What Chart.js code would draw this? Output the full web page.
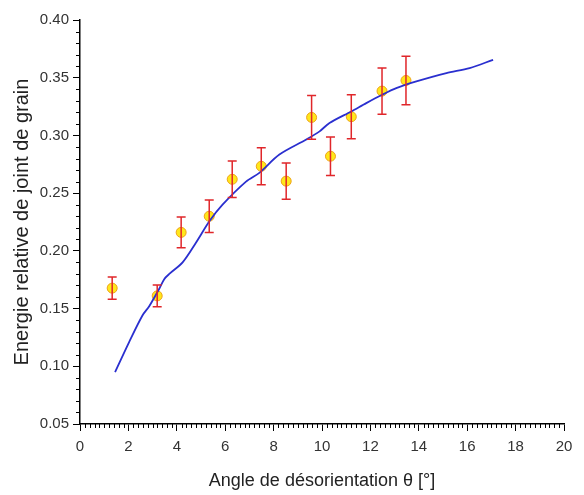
<!DOCTYPE html>
<html>
<head>
<meta charset="utf-8">
<script src="https://cdn.jsdelivr.net/npm/chart.js@4.4.1/dist/chart.umd.min.js"></script>
<style>
    html, body { margin: 0; padding: 0; background: #fff; }
    #wrap { width: 584px; height: 495px; }
</style>
</head>
<body>
<div id="wrap"><canvas id="chart" width="584" height="495"></canvas></div>
<script>
// fitted curve
const curveAngle = [1.45, 2.03, 2.58, 2.86, 3.27, 3.48, 3.69, 4.24, 4.79, 5.36, 5.89, 6.86, 7.41, 8.24, 9.35, 9.9, 10.31, 11.21, 11.83, 12.48, 13.07, 13.9, 15.14, 16.1, 17.07];
const curveEnergy = [0.095, 0.121, 0.144, 0.152, 0.167, 0.1755, 0.18, 0.19, 0.207, 0.226, 0.24, 0.26, 0.2676, 0.2834, 0.2964, 0.3035, 0.3108, 0.3208, 0.328, 0.3352, 0.341, 0.3468, 0.354, 0.3583, 0.3655];

// measured points with error bars
const pointAngle = [1.33, 3.19, 4.18, 5.34, 6.29, 7.49, 8.52, 9.57, 10.35, 11.21, 12.48, 13.47];
const pointEnergy = [0.1677, 0.161, 0.216, 0.230, 0.262, 0.2733, 0.2604, 0.3156, 0.282, 0.3162, 0.3384, 0.3476];
const pointError = [0.0097, 0.0095, 0.0134, 0.014, 0.0158, 0.016, 0.0157, 0.019, 0.0167, 0.019, 0.020, 0.021];

const xMin = 0, xMax = 20, xStep = 2, xMinorStep = 0.2;
const yMin = 0.05, yMax = 0.40, yStep = 0.05, yMinorStep = 0.01;

const errorBars = {
    id: 'errorBars',
    afterDatasetsDraw(chart) {
        const { ctx, scales: { x, y } } = chart;
        ctx.save();
        ctx.strokeStyle = '#e0262a';
        ctx.lineWidth = 1.5;
        pointAngle.forEach((a, i) => {
            const px = x.getPixelForValue(a);
            const top = y.getPixelForValue(pointEnergy[i] + pointError[i]);
            const bottom = y.getPixelForValue(pointEnergy[i] - pointError[i]);
            ctx.beginPath();
            ctx.moveTo(px, top);
            ctx.lineTo(px, bottom);
            ctx.moveTo(px - 4.5, top);
            ctx.lineTo(px + 4.5, top);
            ctx.moveTo(px - 4.5, bottom);
            ctx.lineTo(px + 4.5, bottom);
            ctx.stroke();
        });
        ctx.restore();
    },
};

const minorTicks = {
    id: 'minorTicks',
    afterDraw(chart) {
        const { ctx, chartArea, scales: { x, y } } = chart;
        ctx.save();
        ctx.strokeStyle = '#000';
        ctx.lineWidth = 1;
        ctx.beginPath();
        const nx = Math.round((xMax - xMin) / xMinorStep);
        for (let i = 0; i <= nx; i++) {
            if (i % 10 === 0) continue;
            const px = Math.round(x.getPixelForValue(xMin + i * xMinorStep)) + 0.5;
            ctx.moveTo(px, chartArea.bottom);
            ctx.lineTo(px, chartArea.bottom + 4);
        }
        const ny = Math.round((yMax - yMin) / yMinorStep);
        for (let i = 0; i <= ny; i++) {
            if (i % 5 === 0) continue;
            const py = Math.round(y.getPixelForValue(yMin + i * yMinorStep)) + 0.5;
            ctx.moveTo(chartArea.left, py);
            ctx.lineTo(chartArea.left - 4, py);
        }
        ctx.stroke();
        ctx.restore();
    },
};

new Chart(document.getElementById('chart'), {
    data: {
        datasets: [
            {
                type: 'line',
                data: curveAngle.map((a, i) => ({ x: a, y: curveEnergy[i] })),
                borderColor: '#2a2fcf',
                borderWidth: 1.8,
                pointRadius: 0,
                tension: 0.3,
                order: 0,
            },
            {
                type: 'scatter',
                data: pointAngle.map((a, i) => ({ x: a, y: pointEnergy[i] })),
                backgroundColor: '#ffe81a',
                borderColor: '#eda21a',
                borderWidth: 1,
                pointRadius: 5,
                order: 1,
            },
        ],
    },
    options: {
        responsive: false,
        animation: false,
        layout: { padding: { top: 20, right: 20, left: 0, bottom: 0 } },
        plugins: { legend: { display: false }, tooltip: { enabled: false } },
        scales: {
            x: {
                type: 'linear',
                min: xMin,
                max: xMax,
                afterFit: (s) => { s.height = 71; },
                ticks: {
                    stepSize: xStep,
                    color: '#333',
                    padding: 7,
                    font: { family: 'Liberation Sans', size: 15 },
                },
                grid: { drawOnChartArea: false, tickLength: 7, color: '#000', lineWidth: 1 },
                border: { color: '#000', width: 1.5 },
                title: {
                    display: true,
                    text: 'Angle de désorientation θ [°]',
                    color: '#222',
                    font: { family: 'Liberation Sans', size: 18 },
                    padding: { top: 4, bottom: 3 },
                },
            },
            y: {
                type: 'linear',
                min: yMin,
                max: yMax,
                afterFit: (s) => { s.width = 80; },
                ticks: {
                    stepSize: yStep,
                    color: '#333',
                    padding: 4,
                    callback: (v) => v.toFixed(2),
                    font: { family: 'Liberation Sans', size: 15 },
                },
                grid: { drawOnChartArea: false, tickLength: 7, color: '#000', lineWidth: 1 },
                border: { color: '#000', width: 1.5 },
                title: {
                    display: true,
                    text: 'Energie relative de joint de grain',
                    color: '#222',
                    font: { family: 'Liberation Sans', size: 20 },
                    padding: { top: 10, bottom: 4 },
                },
            },
        },
    },
    plugins: [errorBars, minorTicks],
});
</script>
</body>
</html>
